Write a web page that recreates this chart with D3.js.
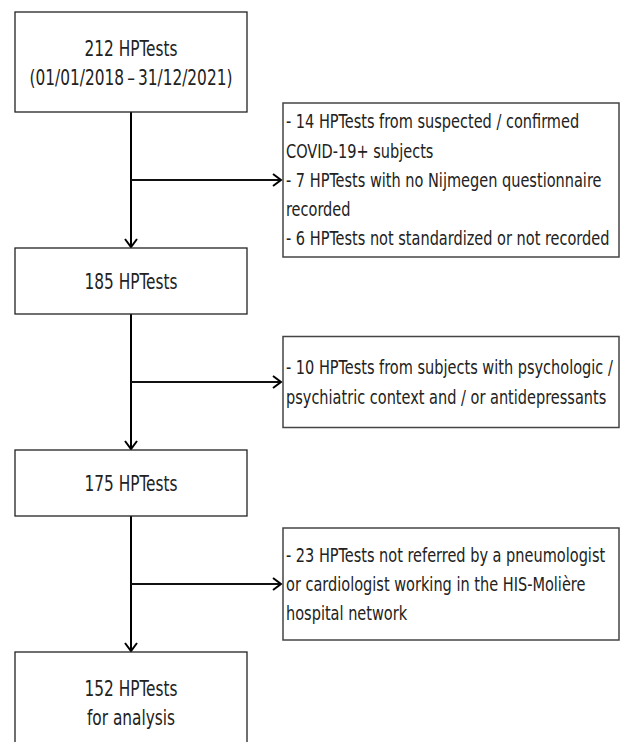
<!DOCTYPE html>
<html>
<head>
<meta charset="utf-8">
<title>HPTests flow chart</title>
<script src="https://cdn.jsdelivr.net/npm/d3@7/dist/d3.min.js"></script>
<style>
  body { margin: 0; background: #fff; }
  svg text { font-family: "DejaVu Sans Condensed", Lato, sans-serif; fill: #222; }
</style>
</head>
<body>
<div id="chart"></div>
<script>
// steps of the selection, top to bottom
var stepCounts = ["212 HPTests", "185 HPTests", "175 HPTests", "152 HPTests"];
var stepNotes = ["(01/01/2018\u2009\u2013\u200931/12/2021)", "", "", "for analysis"];

// exclusions between two steps, one entry per wrapped line
var exclusions1 = [
  "- 14 HPTests from suspected / confirmed",
  "COVID-19+ subjects",
  "- 7 HPTests with no Nijmegen questionnaire",
  "recorded",
  "- 6 HPTests not standardized or not recorded"
];
var exclusions2 = [
  "- 10 HPTests from subjects with psychologic /",
  "psychiatric context and / or antidepressants"
];
var exclusions3 = [
  "- 23 HPTests not referred by a pneumologist",
  "or cardiologist working in the HIS-Moli\u00e8re",
  "hospital network"
];
var exclusionLines = [exclusions1, exclusions2, exclusions3];

var w = 621;
var h = 742;
var boxX = 15, boxW = 232;
var spineX = boxX + boxW / 2;
var sideX = 283, sideW = 336;
var gap = 136;
var lineH = 29.3;
var sideFont = 19;
var mainFont = 20.5;

// box heights grow with the number of text lines
var mainHeight = d3.scaleOrdinal().domain([1, 2]).range([66, 100]);
var sideHeight = d3.scaleLinear().domain([2, 5]).range([91, 154]);

var svg = d3.select("#chart")
  .append("svg")
  .attr("width", w)
  .attr("height", h);

svg.append("defs").append("marker")
  .attr("id", "head")
  .attr("markerUnits", "userSpaceOnUse")
  .attr("viewBox", "-10 -7 12 14")
  .attr("refX", 0)
  .attr("refY", 0)
  .attr("markerWidth", 12)
  .attr("markerHeight", 14)
  .attr("orient", "auto")
  .append("path")
  .attr("d", "M-8,-6L0,0L-8,6")
  .attr("fill", "none")
  .attr("stroke", "#000")
  .attr("stroke-width", 2);

// the original font is narrow: squeeze the text horizontally so the widest lines
// span about what they span there
function squeezeFor(size, pairs) {
  var probe = svg.append("text").style("font-size", size + "px");
  var fits = pairs.map(function(p) {
    probe.text(p[0]);
    return p[1] / probe.node().getComputedTextLength();
  });
  probe.remove();
  return Math.min(1, d3.min(fits));
}
var sideSqueeze = squeezeFor(sideFont, [[exclusions1[4], 331], [exclusions2[0], 327]]);
var mainSqueeze = squeezeFor(mainFont, [[stepCounts[0], 105], [stepNotes[0], 203]]);

// layout of the main steps
var steps = stepCounts.map(function(d, i) {
  var lines = stepNotes[i] ? [d, stepNotes[i]] : [d];
  return { lines: lines, height: mainHeight(lines.length) };
});
var y = 12;
steps.forEach(function(s) {
  s.top = y;
  s.bottom = y + s.height;
  y = s.bottom + gap;
});

function writeLines(g, lines, cx, cy, anchor, size, sx) {
  g.selectAll("text")
    .data(lines)
    .enter().append("text")
    .attr("transform", function(d, i) {
      var ly = cy + (i - (lines.length - 1) / 2) * lineH;
      return "translate(" + cx + "," + ly + ") scale(" + sx + ",1)";
    })
    .attr("dy", "0.36em")
    .attr("text-anchor", anchor)
    .style("font-size", size + "px")
    .text(function(d) { return d; });
}

// arrows between the steps
for (var i = 0; i < steps.length - 1; i++) {
  svg.append("line")
    .attr("x1", spineX).attr("x2", spineX)
    .attr("y1", steps[i].bottom).attr("y2", steps[i + 1].top - 1)
    .attr("stroke", "#000")
    .attr("stroke-width", 2)
    .attr("marker-end", "url(#head)");
}

// exclusion branches and boxes
exclusionLines.forEach(function(lines, i) {
  var by = (steps[i].bottom + steps[i + 1].top) / 2;
  var sh = sideHeight(lines.length);
  svg.append("line")
    .attr("x1", spineX).attr("x2", sideX - 2)
    .attr("y1", by).attr("y2", by)
    .attr("stroke", "#111")
    .attr("stroke-width", 2)
    .attr("marker-end", "url(#head)");
  svg.append("rect")
    .attr("x", sideX).attr("y", by - sh / 2)
    .attr("width", sideW).attr("height", sh)
    .attr("fill", "#fff")
    .attr("stroke", "#444")
    .attr("stroke-width", 1.5);
  writeLines(svg.append("g"), lines, sideX + 3, by, "start", sideFont, sideSqueeze);
});

// main step boxes
steps.forEach(function(s) {
  svg.append("rect")
    .attr("x", boxX).attr("y", s.top)
    .attr("width", boxW).attr("height", s.height)
    .attr("fill", "#fff")
    .attr("stroke", "#222")
    .attr("stroke-width", 1.3);
  writeLines(svg.append("g"), s.lines, boxX + boxW / 2, s.top + s.height / 2 + 1,
    "middle", mainFont, mainSqueeze);
});
</script>
</body>
</html>
